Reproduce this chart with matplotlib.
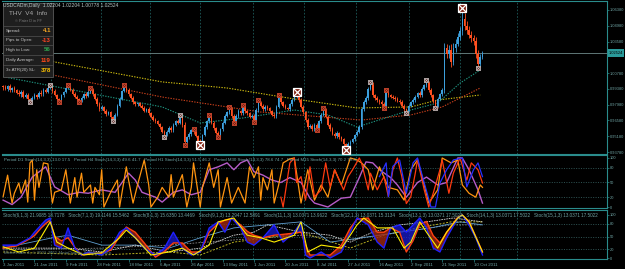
import matplotlib
matplotlib.use("Agg")
import matplotlib.pyplot as plt
from matplotlib.patches import Rectangle
from matplotlib.lines import Line2D
import numpy as np

plt.rcParams['font.family'] = ['Liberation Sans', 'DejaVu Sans']

# ---------------- data ----------------
first_open = 9960
close_pips = [
    9952, 9938, 9960, 9925, 9944, 9928, 9905, 9890, 9912, 9870,
    9885, 9848, 9835, 9860, 9880, 9868, 9905, 9890, 9930, 9915,
    9948, 9960, 9920, 9885, 9850, 9838, 9880, 9910, 9945, 9958,
    9930, 9895, 9870, 9845, 9835, 9860, 9890, 9875, 9915, 9930,
    9890, 9850, 9800, 9760, 9780, 9740, 9715, 9730, 9690, 9668,
    9710, 9790, 9850, 9920, 9955, 9930, 9890, 9860, 9820, 9800,
    9810, 9790, 9770, 9745, 9760, 9720, 9690, 9665, 9650, 9630,
    9600, 9560, 9530, 9560, 9590, 9570, 9620, 9650, 9640, 9690,
    9620, 9470, 9510, 9540, 9570, 9555, 9520, 9480, 9458, 9530,
    9600, 9650, 9690, 9640, 9590, 9550, 9525, 9580, 9640, 9700,
    9730, 9760, 9700, 9650, 9700, 9740, 9720, 9775, 9740, 9720,
    9690, 9700, 9660, 9750, 9815, 9790, 9760, 9780, 9765, 9740,
    9710, 9695, 9780, 9860, 9820, 9790, 9770, 9760, 9800, 9840,
    9870, 9895, 9840, 9780, 9730, 9660, 9600, 9610, 9580, 9620,
    9590, 9650, 9710, 9750, 9690, 9620, 9580, 9540, 9520, 9545,
    9510, 9490, 9450, 9415, 9450, 9470, 9490, 9530, 9560, 9600,
    9760, 9820, 9860, 9940, 9975, 9880, 9860, 9840, 9820, 9800,
    9790, 9905, 9880, 9870, 9860, 9850, 9835, 9820, 9790, 9760,
    9745, 9790, 9820, 9840, 9870, 9900, 9880, 9940, 9970, 9990,
    9930, 9880, 9830, 9790, 9850, 9890, 9930, 10300, 10250, 10280,
    10180, 10300, 10340, 10400, 10450, 10560, 10500, 10460, 10420, 10390,
    10360, 10250, 10160, 10220, 10252]
up_wick = [
    15, 18, 12, 20, 14, 16, 10, 22, 12, 18,
    14, 20, 10, 12, 18, 10, 15, 20, 12, 16,
    14, 13, 10, 18, 12, 10, 14, 12, 16, 15,
    10, 14, 12, 18, 10, 12, 16, 20, 12, 16,
    14, 10, 12, 20, 16, 10, 18, 12, 14, 10,
    12, 15, 14, 10, 18, 12, 20, 14, 18, 12,
    16, 12, 14, 18, 10, 14, 12, 16, 12, 14,
    10, 12, 14, 12, 16, 20, 12, 14, 18, 17,
    16, 25, 14, 12, 16, 10, 14, 12, 16, 12,
    14, 12, 17, 16, 12, 10, 14, 12, 16, 12,
    14, 18, 16, 12, 14, 16, 12, 20, 14, 12,
    16, 12, 14, 16, 25, 14, 12, 16, 12, 14,
    12, 16, 14, 20, 16, 12, 14, 12, 16, 14,
    12, 15, 16, 20, 14, 12, 16, 18, 14, 16,
    12, 14, 16, 20, 16, 14, 12, 18, 14, 16,
    12, 14, 16, 12, 18, 14, 16, 12, 14, 16,
    20, 18, 16, 14, 25, 20, 16, 14, 12, 16,
    18, 23, 16, 14, 12, 16, 14, 12, 16, 14,
    12, 16, 14, 18, 16, 14, 20, 16, 14, 27,
    20, 16, 14, 12, 18, 16, 20, 45, 40, 50,
    60, 45, 40, 35, 40, 96, 50, 40, 35, 30,
    30, 40, 35, 25, 20]
dn_wick = [
    20, 14, 16, 12, 18, 14, 16, 12, 20, 14,
    16, 12, 13, 14, 12, 16, 10, 14, 12, 16,
    12, 14, 16, 12, 14, 16, 12, 14, 10, 12,
    14, 12, 16, 10, 13, 14, 12, 16, 12, 14,
    16, 12, 14, 16, 12, 18, 14, 12, 16, 14,
    14, 12, 16, 14, 12, 16, 14, 12, 14, 16,
    12, 16, 14, 12, 16, 14, 12, 16, 14, 12,
    14, 12, 18, 14, 12, 16, 14, 12, 16, 14,
    16, 30, 14, 12, 16, 14, 12, 16, 18, 14,
    12, 16, 14, 12, 16, 15, 14, 12, 16, 14,
    12, 14, 16, 14, 12, 16, 14, 12, 14, 16,
    12, 14, 15, 16, 14, 12, 16, 14, 12, 16,
    14, 15, 16, 14, 12, 16, 14, 12, 16, 14,
    12, 14, 16, 14, 18, 16, 14, 12, 16, 14,
    16, 14, 12, 16, 14, 12, 16, 14, 18, 16,
    14, 16, 20, 19, 16, 14, 12, 16, 14, 12,
    16, 14, 12, 16, 14, 18, 16, 14, 12, 16,
    20, 14, 16, 12, 14, 16, 12, 14, 16, 14,
    21, 14, 16, 12, 14, 16, 14, 12, 16, 14,
    18, 16, 14, 20, 16, 14, 18, 30, 40, 35,
    45, 30, 35, 25, 30, 30, 40, 35, 30, 35,
    30, 40, 36, 25, 20]

# zigzag swing markers (bar index, price, kind 0=small red, 1=small grey, 2=big white)
zz_idx = [12, 21, 25, 29, 34, 39, 49, 54, 72, 79, 81, 85, 88, 92, 96, 101, 103, 107,
          112, 114, 123, 131, 140, 143, 153, 164, 170, 171, 180, 189, 193, 205, 212]
zz_price = [0.9822, 0.9973, 0.9822, 0.9973, 0.9822, 0.9946, 0.9654, 0.9973, 0.9512,
            0.9707, 0.9440, 0.9580, 0.9440, 0.9707, 0.9511, 0.9778, 0.9636, 0.9795,
            0.9645, 0.9840, 0.9880, 0.9910, 0.9574, 0.9770, 0.9396, 1.0000, 0.9770,
            0.9928, 0.9724, 1.0017, 0.9770, 1.0656, 1.0124]
zz_kind = [1, 1, 0, 0, 0, 0, 1, 0, 1, 1, 0, 0, 2, 0, 0, 0, 0, 0,
           0, 0, 0, 2, 0, 0, 2, 1, 0, 0, 1, 1, 1, 2, 1]

# moving averages (sampled)
ma_slow_idx = [0, 23, 71, 100, 130, 158, 182, 194, 213]
ma_slow = [1.0265, 1.0177, 1.0000, 0.9946, 0.9849, 0.9769, 0.9778, 0.9840, 0.9884]
ma_mid_idx = [0, 22, 71, 115, 160, 182, 196, 213]
ma_mid = [1.0150, 1.0062, 0.9866, 0.9733, 0.9662, 0.9707, 0.9778, 0.9946]
ma_fast_idx = [0, 3, 71, 88, 107, 130, 145, 158, 172, 182, 194, 204, 213]
ma_fast = [1.0050, 1.0035, 0.9778, 0.9636, 0.9680, 0.9751, 0.9707, 0.9600, 0.9689,
           0.9751, 0.9813, 0.9990, 1.0106]

last_price = 1.02524
price_ticks = [1.0638, 1.0498, 1.0358, 1.0078, 0.9938, 0.9798, 0.9658, 0.9518, 0.9378]

date_idx = [0, 14, 28, 42, 56, 70, 84, 98, 112, 126, 140, 154, 168, 182, 196, 210]
date_labels = ["3 Jan 2011", "21 Jan 2011", "9 Feb 2011", "28 Feb 2011", "18 Mar 2011",
               "6 Apr 2011", "26 Apr 2011", "13 May 2011", "1 Jun 2011", "20 Jun 2011",
               "8 Jul 2011", "27 Jul 2011", "16 Aug 2011", "2 Sep 2011", "21 Sep 2011",
               "10 Oct 2011"]
month_idx = [21.5, 43.5, 65.5, 88.0, 111.5, 134.5, 157.5, 181.0, 204.0, 229.5]

# panel 1: multi-timeframe stochastics
p1_orange_idx = [0, 2, 3, 4, 5, 7, 8, 10, 11, 12, 13, 14, 15, 16, 18, 20, 22, 23, 26, 28, 30,
                 32, 33, 35, 36, 39, 40, 41, 43, 44, 45, 48, 51, 52, 55, 56, 58, 60, 63, 65,
                 66, 69, 71, 74, 75, 76, 80, 82, 84, 85, 88, 89, 92, 94, 96, 97, 100, 102,
                 105, 108, 110, 112, 114, 115, 116, 118, 120, 121, 123, 125, 128, 130, 133,
                 136, 139, 142, 145, 148, 151, 155, 158, 160, 163, 165, 168, 172, 176, 179,
                 182, 185, 188, 190, 194, 196, 200, 203, 205, 208, 211, 213, 214]
p1_orange = [21, 65, 35, 8, 28, 49, 28, 55, 10, 90, 96, 14, 76, 40, 90, 88, 8, 30, 35, 76, 8,
             60, 20, 69, 30, 45, 8, 40, 25, 76, 0, 30, 55, 0, 82, 55, 8, 45, 96, 45,
             0, 20, 40, 20, 66, 20, 66, 0, 40, 90, 0, 40, 90, 40, 76, 0, 60, 8,
             40, 8, 82, 60, 82, 14, 60, 35, 76, 8, 45, 90, 98, 100, 8,
             76, 14, 45, 20, 76, 45, 100, 96, 90, 76, 35, 82, 40, 35, 14,
             76, 96, 45, 8, 35, 100, 90, 96, 45, 28, 20, 45, 40]
p1_violet_idx = [0, 4, 8, 13, 19, 23, 29, 34, 38, 44, 50, 56, 59, 62, 68, 71, 76, 80, 84, 88,
                 92, 96, 100, 103, 106, 109, 112, 116, 120, 124, 128, 133, 137, 139, 145,
                 151, 155, 159, 162, 165, 168, 173, 176, 180, 185, 189, 194, 198, 203, 205,
                 208, 212, 214]
p1_violet = [14, 5, 20, 61, 82, 41, 25, 30, 28, 35, 30, 69, 55, 30, 20, 10, 30, 35, 25, 30,
             76, 82, 90, 76, 90, 96, 72, 65, 55, 50, 60, 50, 18, 8, 0,
             18, 20, 60, 92, 90, 76, 60, 45, 20, 50, 61, 45, 50, 100, 100,
             76, 35, 8]
p1_red_idx = [124, 125, 128, 130, 131, 133, 135, 137, 139, 142, 144, 146, 148, 152, 154, 156,
              159, 160, 163, 164, 167, 170, 172, 174, 176, 178, 180, 182, 184, 185, 188, 190,
              192, 195, 196, 199, 201, 204, 207, 209, 212, 214]
p1_red = [20, 0, 90, 100, 50, 62, 14, 82, 21, 35, 90, 41, 76, 35, 62, 76,
          100, 90, 35, 69, 35, 62, 21, 76, 100, 62, 7, 21, 69, 96, 35, 0,
          28, 76, 96, 28, 69, 100, 55, 90, 76, 49]
p1_blue_idx = [168, 171, 172, 174, 177, 180, 183, 185, 188, 191, 193, 195, 198, 201, 205,
               207, 210, 212, 214]
p1_blue = [62, 90, 21, 83, 96, 28, 90, 100, 49, 0, 0, 49, 76, 96, 100, 41, 76, 90, 62]

# panel 2: stochastic ribbon
p2_idx = [0, 6, 12, 14, 17, 19, 21, 23, 26, 29, 32, 35, 38, 44, 48, 52, 55, 59, 63, 68, 72,
          76, 80, 84, 88, 92, 96, 99, 102, 106, 109, 112, 116, 121, 125, 130, 133, 135, 137,
          142, 146, 151, 155, 158, 163, 167, 170, 173, 177, 180, 183, 186, 189, 192, 195,
          198, 203, 205, 208, 211, 214]
p2_fast = [30, 30, 47, 60, 77, 88, 93, 30, 23, 70, 23, 7, 14, 7, 23, 60, 70, 47, 23, 7, 23,
           60, 23, 7, 14, 70, 84, 60, 93, 70, 37, 30, 47, 77, 37, 60, 84, 7, 0,
           14, 0, 14, 60, 93, 77, 37, 23, 70, 77, 60, 77, 93, 70, 23, 14,
           47, 93, 100, 77, 47, 7]
p2_slow = [23, 28, 45, 52, 70, 80, 88, 50, 40, 47, 25, 7, 10, 12, 18, 50, 72, 60, 35, 2, 15,
           35, 35, 14, 14, 60, 80, 88, 92, 77, 62, 53, 47, 53, 55, 58, 60, 30, 7,
           7, 7, 30, 70, 90, 93, 60, 60, 70, 60, 14, 40, 78, 85, 52, 35,
           60, 95, 100, 85, 50, 14]
p2_yellow_idx = [0, 7, 14, 21, 24, 29, 36, 44, 52, 55, 59, 66, 74, 80, 85, 92, 96, 103, 109,
                 115, 121, 130, 133, 136, 142, 151, 155, 158, 161, 167, 174, 179, 182, 186,
                 189, 194, 198, 203, 205, 208, 212, 214]
p2_yellow = [26, 14, 23, 84, 37, 23, 7, 12, 47, 65, 47, 7, 14, 23, 7, 30, 84, 93, 53,
             47, 37, 53, 84, 14, 30, 23, 53, 77, 93, 70, 70, 23, 37, 84,
             60, 23, 60, 93, 100, 84, 37, 14]
p2_white_idx = [0, 14, 29, 44, 59, 74, 88, 103, 112, 118, 133, 146, 155, 165, 177, 189, 201, 214]
p2_white = [23, 23, 23, 14, 30, 14, 23, 53, 60, 77, 60, 53, 37, 60, 77, 84, 93, 84]
p2_lblue_idx = [0, 22, 29, 44, 59, 74, 88, 103, 118, 133, 146, 160, 177, 191, 204, 214]
p2_lblue = [23, 47, 53, 30, 30, 23, 47, 70, 77, 84, 37, 47, 60, 70, 84, 77]
p2_olive_idx = [0, 44, 74, 88, 103, 118, 133, 155, 170, 185, 200, 214]
p2_olive = [14, 7, 14, 7, 37, 47, 60, 23, 53, 70, 84, 84]
p2_gray_idx = [0, 44, 74, 103, 133, 155, 177, 200, 214]
p2_gray = [19, 23, 30, 42, 53, 42, 60, 77, 77]
osc_ticks = [100, 80, 50, 20, 0]
osc_levels = [80, 50, 20]

header_main = "USDCADm,Daily  1.02204 1.02204 1.00778 1.02524"
header_p1 = ("Period D1 Stoch(14,3,3) 13.0 17.5   Period H4 Stoch(14,3,3) 49.6 41.7   "
             "Period H1 Stoch(14,3,3) 51.5 46.2   Period M30 Stoch(14,3,3) 78.6 74.7   "
             "Period M15 Stoch(14,3,3) 70.2 79.4")
header_p2 = ("Stoch(6,1,3) 21.9085 18.7178   Stoch(7,1,3) 19.1146 15.5462   "
             "Stoch(8,1,3) 15.6350 13.4469   Stoch(9,1,3) 13.2947 12.5891   "
             "Stoch(11,1,3) 13.0371 13.9622   Stoch(12,1,3) 13.0371 15.3134   "
             "Stoch(13,1,3) 13.0371 17.5022   Stoch(14,1,3) 13.0371 17.5022   "
             "Stoch(15,1,3) 13.0371 17.5022")
info_rows = ["Spread:", "Pips to Open:", "High to Low:", "Daily Average:", "3x ATR(20) SL:"]
info_vals = ["4.1", "-13", "56", "119", "378"]
info_cols = ["#f5a623", "#ff4422", "#2e9e4e", "#ff4a1a", "#ffc400"]

# ---------------- style ----------------
W, H = 625, 269
BG = "black"
FRAME = "#2a8c8c"
GRID = "#1d5c5c"
TXT = "#6fa3a3"
BULL = "#3c9fdc"
BEAR = "#ff5020"
LBL = 2.9

fig = plt.figure(figsize=(W / 100, H / 100), dpi=100, facecolor=BG)

XMIN = -0.5
XMAX = XMIN + 605 / 2.24


def add_ax(x0, y0, x1, y1):
    a = fig.add_axes([x0 / W, 1 - y1 / H, (x1 - x0) / W, (y1 - y0) / H])
    a.set_facecolor(BG)
    for k, s in a.spines.items():
        s.set_color(FRAME)
        s.set_linewidth(0.8)
    a.spines['left'].set_visible(False)
    a.set_xlim(XMIN, XMAX)
    a.tick_params(axis='x', which='both', bottom=False, labelbottom=False)
    a.yaxis.tick_right()
    a.tick_params(axis='y', colors=FRAME, labelcolor=TXT, labelsize=LBL, length=1.5,
                  width=0.5, pad=0.8)
    for m in month_idx:
        a.axvline(m, color=GRID, lw=0.6, ls=(0, (2, 2)), zorder=0)
    return a


def ftext(x, y, s, **kw):
    kw.setdefault('va', 'center')
    kw.setdefault('fontsize', 3.2)
    kw.setdefault('color', TXT)
    return fig.text(x / W, 1 - y / H, s, zorder=20, **kw)


# ---------------- main price panel ----------------
ax0 = add_ax(2, 1, 607, 154)
ax0.set_ylim(0.93607, 1.07178)
c = np.array(close_pips) / 10000.0
o = np.concatenate([[first_open / 10000.0], c[:-1]])
hi = np.maximum(o, c) + np.array(up_wick) / 10000.0
lo = np.minimum(o, c) - np.array(dn_wick) / 10000.0
x = np.arange(len(c))
cols = np.where(c >= o, BULL, BEAR)
ax0.vlines(x, lo, hi, colors=cols, lw=0.6, zorder=3)
ax0.bar(x, np.maximum(np.abs(c - o), 0.0003), bottom=np.minimum(o, c), width=0.7,
        color=cols, lw=0, zorder=3)

ax0.plot(ma_slow_idx, ma_slow, color="#cdbb10", lw=0.8, ls=(0, (1.2, 1.2)), zorder=2)
ax0.plot(ma_mid_idx, ma_mid, color="#c8401c", lw=0.8, ls=(0, (1.2, 1.2)), zorder=2)
ax0.plot(ma_fast_idx, ma_fast, color="#1f9480", lw=0.8, ls=(0, (1.2, 1.2)), zorder=2)

ax0.axhline(last_price, color="#6f8a8a", lw=0.6, zorder=1)

for i, p, k in zip(zz_idx, zz_price, zz_kind):
    if k == 2:
        ax0.plot(i, p, marker='s', ms=5.5, mfc="#802010", mec="white", mew=0.9, zorder=6)
        ax0.plot(i, p, marker='x', ms=5.5, mec="white", mew=0.9, zorder=7)
    else:
        ec = "#c0b8b8" if k == 1 else "#d04a30"
        ax0.plot(i, p, marker='s', ms=3.5, mfc="#501008", mec=ec, mew=0.6, zorder=6)
        ax0.plot(i, p, marker='x', ms=3.5, mec=ec, mew=0.6, zorder=7)

ax0.set_yticks(price_ticks)
ax0.set_yticklabels(["%.5f" % v for v in price_ticks])

# current price label box
yl = ax0.transData.transform((0, last_price))[1]
ypx = H - yl
fig.patches.append(Rectangle((608 / W, 1 - (ypx + 4) / H), 16 / W, 8 / H,
                             transform=fig.transFigure, facecolor="#2a9a9a",
                             edgecolor="none", zorder=19))
ftext(609, ypx, "%.5f" % last_price, color="black", fontsize=LBL)

# ---------------- panel 1 ----------------
ax1 = add_ax(2, 155, 607, 208)
ax1.set_ylim(-2.04, 106.1)
for lv in osc_levels:
    ax1.axhline(lv, color="#3f6f6f", lw=0.5, ls=(0, (1.5, 2)), zorder=0)
ax1.plot(p1_violet_idx, p1_violet, color="#b65cc8", lw=1.0, zorder=3)
ax1.plot(p1_orange_idx, p1_orange, color="#ff9410", lw=0.9, zorder=4)
ax1.plot(p1_red_idx, p1_red, color="#ff3a10", lw=0.9, zorder=5)
ax1.plot(p1_blue_idx, p1_blue, color="#2830ff", lw=0.9, zorder=6)
ax1.set_yticks(osc_ticks)
ax1.set_yticklabels([str(t) for t in osc_ticks])

# ---------------- panel 2 ----------------
ax2 = add_ax(2, 210, 607, 259)
ax2.set_ylim(-2.3, 111.6)
for lv in osc_levels:
    ax2.axhline(lv, color="#3f6f6f", lw=0.5, ls=(0, (1.5, 2)), zorder=0)
fa = np.array(p2_fast)
sl = np.array(p2_slow)
ax2.fill_between(p2_idx, fa, sl, where=fa >= sl, interpolate=True, color="#1a1ad0",
                 alpha=0.75, lw=0, zorder=2)
ax2.fill_between(p2_idx, fa, sl, where=fa < sl, interpolate=True, color="#a02810",
                 alpha=0.8, lw=0, zorder=2)
ax2.plot(p2_gray_idx, p2_gray, color="#8a8a8a", lw=0.6, ls=(0, (2, 1.5)), zorder=1)
ax2.plot(p2_olive_idx, p2_olive, color="#b8b020", lw=0.7, ls=(0, (2, 1.5)), zorder=1)
ax2.plot(p2_lblue_idx, p2_lblue, color="#5f9ed0", lw=0.6, zorder=1)
ax2.plot(p2_white_idx, p2_white, color="#d8d8d8", lw=0.6, ls=(0, (2, 1)), zorder=1)
ax2.plot(p2_idx, p2_slow, color="#ff4010", lw=1.0, zorder=3)
ax2.plot(p2_idx, p2_fast, color="#2020ff", lw=1.0, zorder=4)
ax2.plot(p2_yellow_idx, p2_yellow, color="#ffee00", lw=0.8, zorder=5)
ax2.set_yticks(osc_ticks)
ax2.set_yticklabels([str(t) for t in osc_ticks])
ax2.set_xticks(date_idx)
ax2.set_xticklabels(date_labels)
ax2.tick_params(axis='x', which='both', bottom=True, labelbottom=True, colors=FRAME,
                labelcolor=TXT, labelsize=3.2, length=2, width=0.5, pad=1.2)
for lab in ax2.get_xticklabels():
    lab.set_ha('left')

# ---------------- texts ----------------
ftext(3, 6, header_main, color="#b8c8c8", fontsize=3.5)
ftext(4, 160, header_p1, color=TXT, fontsize=3.2)
ftext(3, 215, header_p2, color=TXT, fontsize=3.3)
ftext(4, 253, "MetaTrader 4, \u00a9 2001-2011 MetaQuotes Software Corp.", color="#5f7f7f",
      fontsize=3.2)

# info panel
fig.patches.append(Rectangle((3 / W, 1 - 77 / H), 50 / W, 74 / H, transform=fig.transFigure,
                             facecolor="#1e1e1e", edgecolor="#5a5a5a", lw=0.6, zorder=15))
ftext(28, 14, "THV  V4  Info", ha='center', color="#a8a8a8", fontsize=4.6)
ftext(28, 21, "\u00a9 Pater D in FF", ha='center', color="#7a7a7a", fontsize=2.8)
row_y = [31, 40, 50, 60, 70]
for ry in [26, 35.5, 45, 55, 65]:
    fig.lines.append(Line2D([4 / W, 52 / W], [1 - ry / H, 1 - ry / H],
                            transform=fig.transFigure, color="#4a4a4a", lw=0.6, zorder=16))
for ry, lab, val, col in zip(row_y, info_rows, info_vals, info_cols):
    ftext(6, ry, lab, color="#c4c4c4", fontsize=3.2)
    ftext(51, ry, val, ha='right', color=col, fontsize=4.4, fontweight='bold')

fig.savefig("out.png", dpi=100, facecolor=BG)
